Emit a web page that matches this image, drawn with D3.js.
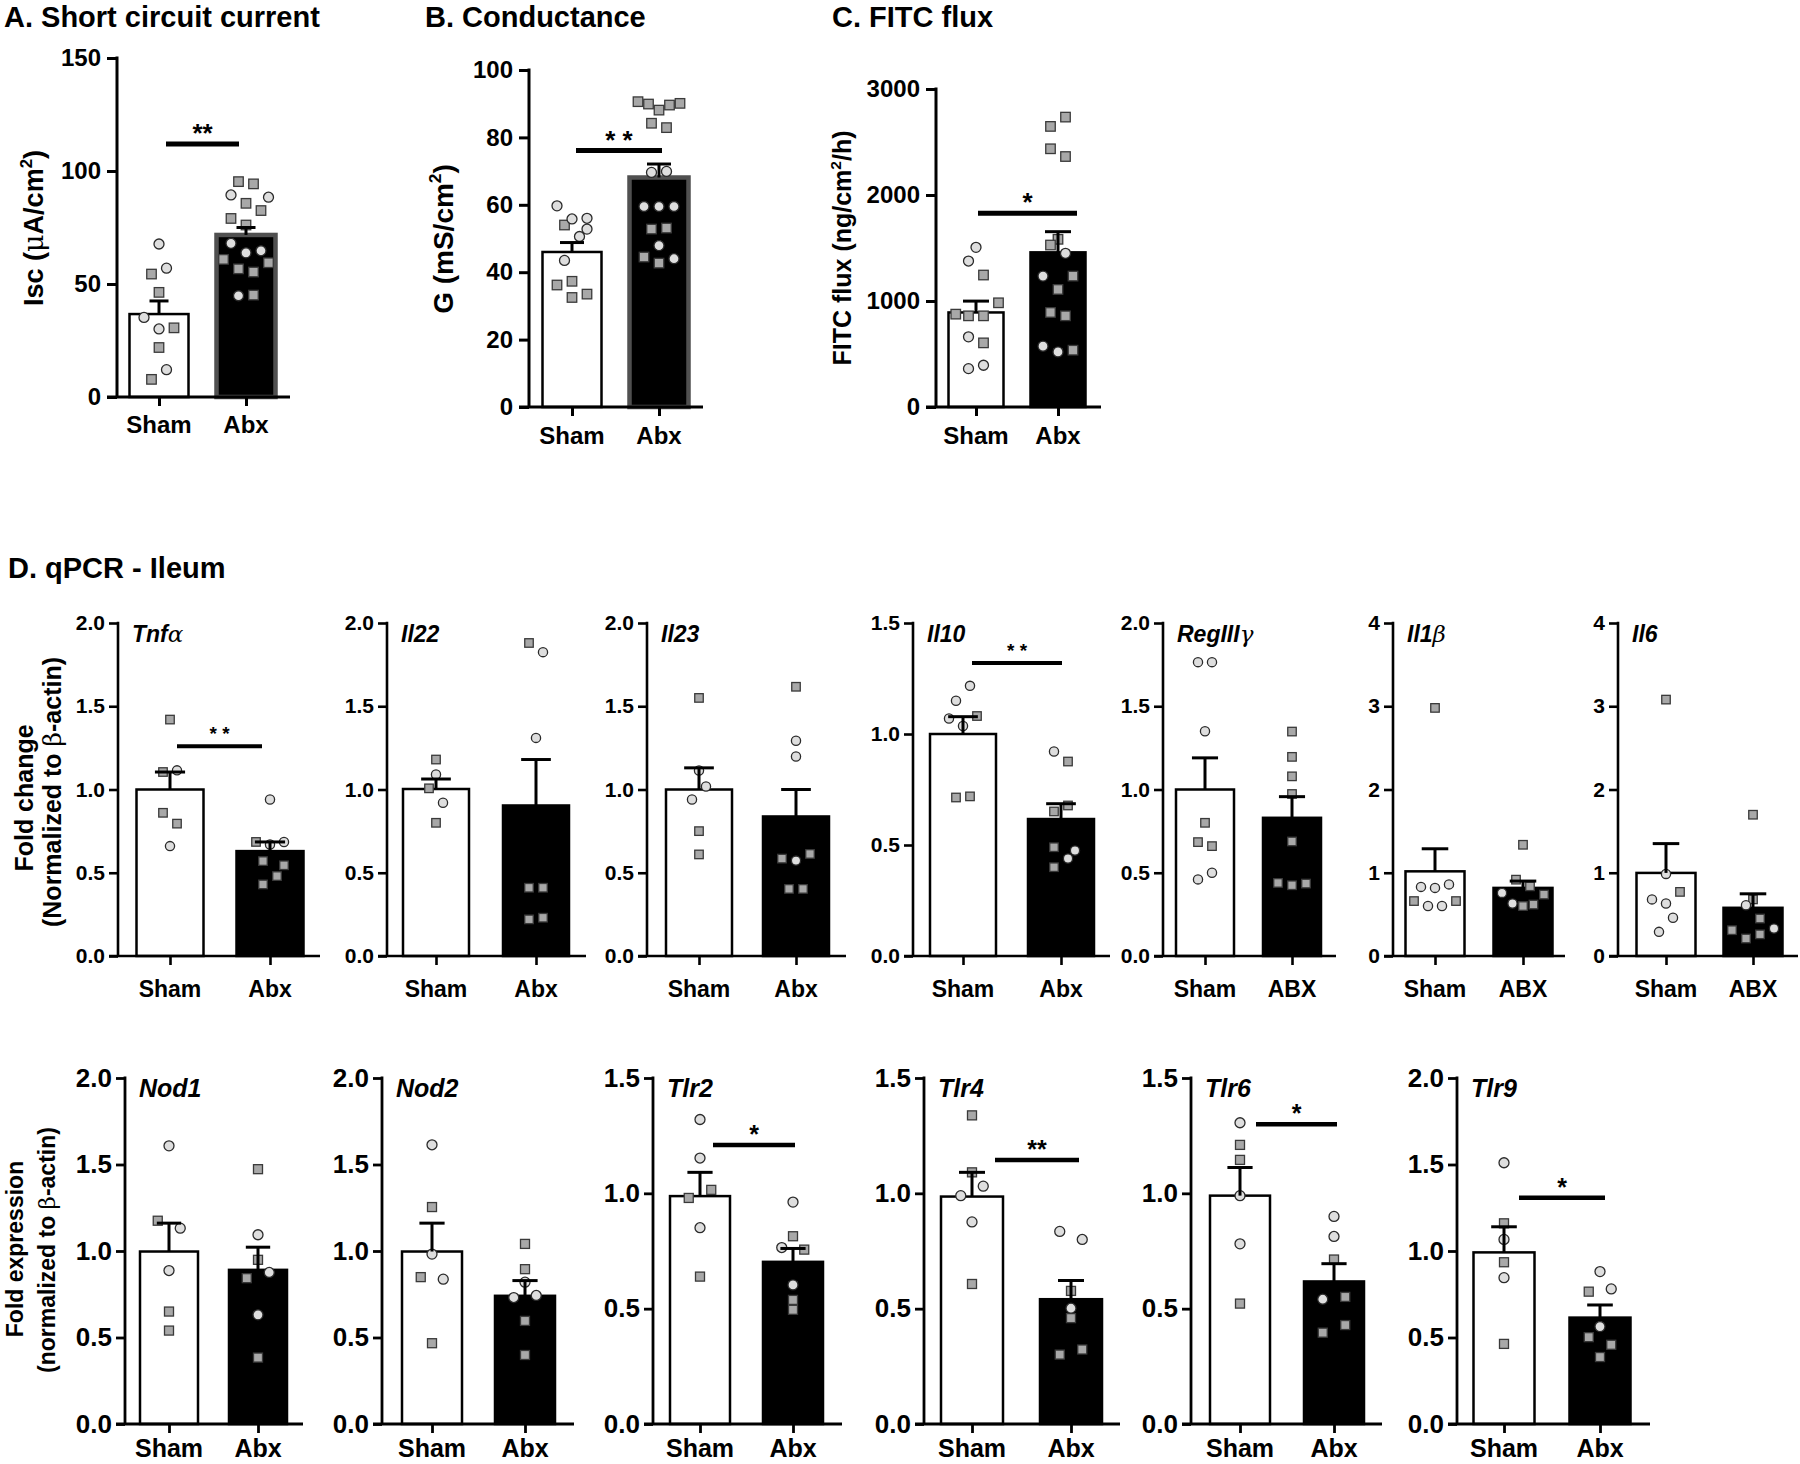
<!DOCTYPE html>
<html><head><meta charset="utf-8">
<script src="https://cdn.jsdelivr.net/npm/d3@7"></script>
<style>
body{margin:0;background:#fff}
svg{display:block}
text{font-family:"Liberation Sans",Arial,Helvetica,sans-serif;font-weight:bold;fill:#000}
</style>
</head><body>
<script>
// ---------------- DATA ----------------
const cats = ["Sham","Abx"];
const catsCaps = ["Sham","ABX"];

// tick values
const ticksIsc = [0,50,100,150];
const ticksG = [0,20,40,60,80,100];
const ticksFitc = [0,1000,2000,3000];
const ticks20 = [0,0.5,1.0,1.5,2.0];
const ticks15 = [0,0.5,1.0,1.5];
const ticks4 = [0,1,2,3,4];

// points: [value, shape (c=circle, s=square), column index in the scatter]
// A. Short circuit current
const iscMean = [36.7, 71.7], iscSem = [5.8, 3.3], iscSig = [112, "**"];
const iscSham = [[67.7,"c",0],[57,"c",1],[54.4,"s",-1],[46.3,"s",0],[35.2,"c",-2],[30.1,"c",0],[30.6,"s",2],[21.9,"s",0],[12.1,"c",1],[7.8,"s",-1]];
const iscAbx = [[95.3,"s",-1],[94.3,"s",1],[89.4,"c",-2],[88.4,"c",3],[85.7,"s",0],[82.5,"s",2],[79,"s",-2],[76.1,"s",0],[68,"c",-2],[63.8,"c",0],[64.7,"c",2],[60.9,"s",-3],[59.4,"s",3],[56.7,"s",-1],[55.3,"s",1],[44.8,"c",-1],[45.1,"s",1]];
// B. Conductance
const gMean = [46.0, 68.1], gSem = [2.8, 4.0], gSig = [76.1, "* *"];
const gSham = [[59.7,"c",-2],[55.8,"c",0],[56,"c",2],[54,"s",-1],[52.8,"c",2],[50.6,"c",1],[43.5,"c",-1],[36.2,"s",-2],[37.3,"s",0],[32.5,"s",0],[33.5,"s",2]];
const gAbx = [[90.6,"s",-2.8],[89.9,"s",-1.4],[88.1,"s",0],[89.6,"s",1.4],[90.1,"s",2.8],[84.2,"s",-1],[82.9,"s",1],[69.6,"c",-1],[69.9,"c",1],[59.5,"c",-2],[59.5,"c",0],[59.5,"c",2],[52.8,"s",-1],[53.1,"s",1],[47.9,"c",0],[44.5,"s",-2],[42.7,"s",0],[44,"c",2]];
// C. FITC flux
const fitcMean = [892, 1459], fitcSem = [107, 195], fitcSig = [1828, "*"];
const fitcSham = [[1506,"c",0],[1377,"c",-1],[1245,"s",1],[983,"s",3],[876,"s",-2.7],[860,"s",-1],[860,"s",1],[662,"c",-1],[605,"s",1],[362,"c",-1],[394,"c",1]];
const fitcAbx = [[2735,"s",1],[2647,"s",-1],[2436,"s",-1],[2363,"s",1],[1582,"s",0],[1528,"s",-1],[1450,"c",1],[1235,"c",-2],[1235,"s",2],[1109,"s",0],[892,"s",-1],[860,"s",1],[574,"c",-2],[520,"c",0],[536,"s",2]];

// D. qPCR - Ileum, row 1
const tnfaMean = [1.0, 0.63], tnfaSem = [0.105, 0.055], tnfaSig = [1.26, "* *"];
const tnfaSham = [[1.42,"s",0],[1.105,"s",-1],[1.115,"c",1],[0.86,"s",-1],[0.795,"s",1],[0.66,"c",0]];
const tnfaAbx = [[0.94,"c",0],[0.685,"s",-2],[0.67,"c",0],[0.685,"c",2],[0.57,"s",-1],[0.545,"s",2],[0.48,"s",1],[0.43,"s",-1]];
const il22Mean = [1.003, 0.904], il22Sem = [0.06, 0.276];
const il22Sham = [[1.18,"s",0],[1.09,"c",0],[1.007,"s",-1],[0.92,"c",1],[0.80,"s",0]];
const il22Abx = [[1.88,"s",-1],[1.825,"c",1],[1.31,"c",0],[0.41,"s",-1],[0.41,"s",1],[0.22,"s",-1],[0.23,"s",1]];
const il23Mean = [1.0, 0.838], il23Sem = [0.13, 0.162];
const il23Sham = [[1.55,"s",0],[1.114,"c",0],[1.018,"c",1],[0.94,"c",-1],[0.75,"s",0],[0.61,"s",0]];
const il23Abx = [[1.617,"s",0],[1.293,"c",0],[1.198,"c",0],[0.585,"s",-2],[0.573,"c",0],[0.613,"s",2],[0.403,"s",-1],[0.403,"s",1]];
const il10Mean = [1.0, 0.617], il10Sem = [0.078, 0.069], il10Sig = [1.32, "* *"];
const il10Sham = [[1.217,"c",1],[1.15,"c",-1],[1.07,"c",-2],[1.081,"s",2],[1.036,"c",0],[0.714,"s",-1],[0.719,"s",1]];
const il10Abx = [[0.921,"c",-1],[0.876,"s",1],[0.678,"s",1],[0.651,"s",-1],[0.49,"s",-1],[0.475,"c",2],[0.439,"c",1],[0.40,"s",-1]];
const reg3gMean = [1.0, 0.83], reg3gSem = [0.19, 0.127];
const reg3gSham = [[1.765,"c",-1],[1.765,"c",1],[1.35,"c",0],[0.80,"s",0],[0.684,"s",-1],[0.66,"s",1],[0.50,"c",1],[0.46,"c",-1]];
const reg3gAbx = [[1.348,"s",0],[1.196,"s",0],[1.079,"s",0],[0.973,"s",0],[0.688,"s",0],[0.439,"s",-2],[0.425,"s",0],[0.435,"s",2]];
const il1bMean = [1.017, 0.818], il1bSem = [0.271, 0.082];
const il1bSham = [[2.98,"s",0],[0.83,"c",-2],[0.818,"c",0],[0.86,"c",2],[0.66,"s",-3],[0.66,"s",3],[0.60,"c",-1],[0.60,"c",1]];
const il1bAbx = [[1.336,"s",0],[0.917,"s",-1],[0.758,"c",-3],[0.837,"s",1],[0.738,"s",3],[0.63,"c",-1.5],[0.60,"s",0],[0.618,"s",1.5]];
const il6Mean = [0.998, 0.579], il6Sem = [0.352, 0.168];
const il6Sham = [[3.08,"s",0],[0.986,"c",0],[0.77,"s",2],[0.68,"c",-2],[0.63,"c",0],[0.46,"c",1],[0.29,"c",-1]];
const il6Abx = [[1.697,"s",0],[0.68,"s",0],[0.61,"c",-1],[0.45,"s",1],[0.31,"s",-3],[0.33,"c",3],[0.26,"s",1],[0.21,"s",-1]];

// row 2
const nod1Mean = [0.997, 0.891], nod1Sem = [0.164, 0.131];
const nod1Sham = [[1.608,"c",0],[1.175,"s",-1.5],[1.132,"c",1.5],[0.887,"c",0],[0.65,"s",0],[0.54,"s",0]];
const nod1Abx = [[1.473,"s",0],[1.094,"c",0],[0.949,"s",0],[0.843,"s",-1.5],[0.876,"c",1.5],[0.631,"c",0],[0.384,"s",0]];
const nod2Mean = [0.997, 0.741], nod2Sem = [0.164, 0.088];
const nod2Sham = [[1.614,"c",0],[1.254,"s",0],[0.982,"c",0],[0.849,"s",-1.5],[0.837,"c",1.5],[0.467,"s",0]];
const nod2Abx = [[1.041,"s",0],[0.895,"s",0],[0.82,"c",0],[0.731,"c",-1.5],[0.743,"c",1.5],[0.596,"s",0],[0.399,"s",0]];
const tlr2Mean = [0.988, 0.703], tlr2Sem = [0.103, 0.058], tlr2Sig = [1.209, "*"];
const tlr2Sham = [[1.32,"c",0],[1.153,"c",0],[1.015,"s",1.5],[0.98,"s",-1.5],[0.851,"c",0],[0.639,"s",0]];
const tlr2Abx = [[0.962,"c",0],[0.814,"s",0],[0.765,"c",-1.5],[0.756,"s",1.5],[0.603,"c",0],[0.538,"s",0],[0.495,"s",0]];
const tlr4Mean = [0.986, 0.541], tlr4Sem = [0.105, 0.081], tlr4Sig = [1.145, "**"];
const tlr4Sham = [[1.338,"s",0],[1.091,"s",0],[1.031,"c",1.5],[0.99,"c",-1.5],[0.876,"c",0],[0.607,"s",0]];
const tlr4Abx = [[0.835,"c",-1.5],[0.80,"c",1.5],[0.577,"s",0],[0.502,"c",0],[0.459,"s",0],[0.301,"s",-1.5],[0.323,"s",1.5]];
const tlr6Mean = [0.99, 0.618], tlr6Sem = [0.122, 0.077], tlr6Sig = [1.299, "*"];
const tlr6Sham = [[1.306,"c",0],[1.21,"s",0],[1.145,"s",0],[0.99,"c",0],[0.781,"c",0],[0.522,"s",0]];
const tlr6Abx = [[0.90,"c",0],[0.813,"c",0],[0.713,"s",0],[0.541,"c",-1.5],[0.551,"s",1.5],[0.396,"s",-1.5],[0.429,"s",1.5]];
const tlr9Mean = [0.992, 0.615], tlr9Sem = [0.148, 0.073], tlr9Sig = [1.308, "*"];
const tlr9Sham = [[1.51,"c",0],[1.16,"s",0],[1.067,"c",0],[0.935,"s",0],[0.846,"c",0],[0.463,"s",0]];
const tlr9Abx = [[0.881,"c",0],[0.765,"s",-1.5],[0.781,"c",1.5],[0.563,"c",0],[0.502,"s",-1.5],[0.458,"s",1.5],[0.387,"s",0]];

// ---------------- DRAWING ----------------
const svg = d3.select("body").append("svg").attr("width",1800).attr("height",1464);

// style presets
const styleTop = {tick:24, lab:24, axW:3, bs:2.5, r:5, sq:9.5, cw:7.5, tl:10, tp:6, sigW:5, starSize:26, starW:"bold", capF:0.33};
const styleR1 = {tick:21, lab:23, axW:2.6, bs:2.5, r:4.6, sq:8.5, cw:7, tl:9, tp:4, sigW:4, starSize:19, starW:"normal", capF:0.45, gene:23};
const styleR2 = {tick:26, lab:25, axW:2.8, bs:2.5, r:5, sq:9, cw:7.5, tl:9, tp:4, sigW:4.5, starSize:25, starW:"bold", capF:0.42, gene:25};

function panel(o, S){
  const g = svg.append("g");
  const y = d3.scaleLinear().domain([0, o.max]).range([o.y0, o.y1]);
  const x = d3.scalePoint().domain(o.cats).range([o.xs, o.xa]);
  const groups = [o.sham, o.abx];

  // bars
  g.selectAll("rect.bar").data(o.mean).join("rect").attr("class","bar")
    .attr("x",(d,i)=>x(o.cats[i])-o.bw/2)
    .attr("y",d=>y(d))
    .attr("width",o.bw)
    .attr("height",d=>o.y0-y(d))
    .attr("fill",(d,i)=>i? "#000":"#fff")
    .attr("stroke",(d,i)=> (i && o.edge)? o.edge : "#000")
    .attr("stroke-width",(d,i)=> (i && o.edge)? 4.5 : S.bs);

  // points
  groups.forEach((pts,i)=>{
    const cx = x(o.cats[i]);
    g.selectAll(null).data(pts.filter(p=>p[1]==="s")).join("rect")
      .attr("x",p=>cx+p[2]*S.cw-S.sq/2).attr("y",p=>y(p[0])-S.sq/2)
      .attr("width",S.sq).attr("height",S.sq)
      .attr("fill","#a8a8a8").attr("stroke","#3a3a3a").attr("stroke-width",1.3);
    g.selectAll(null).data(pts.filter(p=>p[1]==="c")).join("circle")
      .attr("cx",p=>cx+p[2]*S.cw).attr("cy",p=>y(p[0])).attr("r",S.r)
      .attr("fill","#dedede").attr("stroke","#2a2a2a").attr("stroke-width",1.3);
  });

  // error bars (upper SEM)
  o.mean.forEach((m,i)=>{
    const cx = x(o.cats[i]);
    const cw = o.capW || o.bw*S.capF;
    g.append("line").attr("x1",cx).attr("x2",cx).attr("y1",y(m)).attr("y2",y(m+o.sem[i]))
      .attr("stroke","#000").attr("stroke-width",3);
    g.append("line").attr("x1",cx-cw/2).attr("x2",cx+cw/2).attr("y1",y(m+o.sem[i])).attr("y2",y(m+o.sem[i]))
      .attr("stroke","#000").attr("stroke-width",3);
  });

  // y axis
  const ya = d3.axisLeft(y).tickValues(o.ticks).tickFormat(o.fmt).tickSize(S.tl).tickPadding(S.tp);
  const gy = g.append("g").attr("transform",`translate(${o.ax},0)`).call(ya);
  gy.select(".domain").remove();
  gy.selectAll(".tick line").attr("stroke","#000").attr("stroke-width",S.axW);
  gy.selectAll(".tick text").attr("font-size",S.tick).attr("font-family",null).attr("fill","#000");
  g.append("line").attr("x1",o.ax).attr("x2",o.ax).attr("y1",o.y0).attr("y2",o.y1 - S.axW/2)
    .attr("stroke","#000").attr("stroke-width",S.axW);

  // x axis
  const xa = d3.axisBottom(x).tickSize(9).tickPadding(4);
  const gx = g.append("g").attr("transform",`translate(0,${o.y0})`).call(xa);
  gx.select(".domain").remove();
  gx.selectAll(".tick line").attr("stroke","#000").attr("stroke-width",S.axW);
  gx.selectAll(".tick text").remove();
  g.append("line").attr("x1",o.ax - S.tl).attr("x2",o.xe).attr("y1",o.y0).attr("y2",o.y0)
    .attr("stroke","#000").attr("stroke-width",S.axW);
  g.selectAll("text.cat").data(o.labels).join("text").attr("class","cat")
    .attr("x",(d,i)=>x(o.cats[i])).attr("y",o.lb).attr("text-anchor","middle")
    .attr("font-size",S.lab).text(d=>d);

  // gene name
  if (o.gene){
    const t = g.append("text").attr("x",o.ax+14).attr("y",o.y1+o.gy).attr("font-size",S.gene).attr("font-style","italic");
    o.gene.forEach(part=>{
      const ts = t.append("tspan").text(part[0]);
      if (part[1]) ts.attr("font-family","'DejaVu Serif',serif").attr("font-weight","normal");
    });
  }

  // significance
  if (o.sig){
    const yy = y(o.sig[0]);
    const x1 = x(o.cats[0]) + o.sx[0], x2 = x(o.cats[1]) + o.sx[1];
    g.append("line").attr("x1",x1).attr("x2",x2).attr("y1",yy).attr("y2",yy)
      .attr("stroke","#000").attr("stroke-width",S.sigW);
    g.append("text").attr("x",(x1+x2)/2).attr("y",yy - (S.starW==="bold"? 2 : 6))
      .attr("text-anchor","middle").attr("font-size",S.starSize).attr("font-weight",S.starW)
      .text(o.sig[1]);
  }
  return g;
}

const f1 = d3.format(".1f"), f0 = d3.format("d");

// top row
panel({ax:117, xs:159, xa:246, xe:290, y0:397, y1:58, max:150, ticks:ticksIsc, fmt:f0, bw:59, capW:19,
  cats, labels:cats, mean:iscMean, sem:iscSem, sham:iscSham, abx:iscAbx, edge:"#505050", lb:433,
  sig:iscSig, sx:[7,-7]}, styleTop);
panel({ax:529, xs:572, xa:659, xe:703, y0:407, y1:70, max:100, ticks:ticksG, fmt:f0, bw:59, capW:24,
  cats, labels:cats, mean:gMean, sem:gSem, sham:gSham, abx:gAbx, edge:"#505050", lb:444,
  sig:gSig, sx:[4,3]}, styleTop);
panel({ax:936, xs:976, xa:1058, xe:1101, y0:407, y1:89, max:3000, ticks:ticksFitc, fmt:f0, bw:55, capW:26,
  cats, labels:cats, mean:fitcMean, sem:fitcSem, sham:fitcSham, abx:fitcAbx, lb:444,
  sig:fitcSig, sx:[2,19]}, styleTop);

// row 1
const r1 = {y0:956, y1:623, lb:997, gy:19};
panel({...r1, ax:118, xs:170, xa:270, xe:320, max:2, ticks:ticks20, fmt:f1, bw:67, cats, labels:cats,
  mean:tnfaMean, sem:tnfaSem, sham:tnfaSham, abx:tnfaAbx, gene:[["Tnf"],["α",1]], sig:tnfaSig, sx:[7,-8]}, styleR1);
panel({...r1, ax:387, xs:436, xa:536, xe:586, max:2, ticks:ticks20, fmt:f1, bw:66, cats, labels:cats,
  mean:il22Mean, sem:il22Sem, sham:il22Sham, abx:il22Abx, gene:[["Il22"]]}, styleR1);
panel({...r1, ax:647, xs:699, xa:796, xe:846, max:2, ticks:ticks20, fmt:f1, bw:66, cats, labels:cats,
  mean:il23Mean, sem:il23Sem, sham:il23Sham, abx:il23Abx, gene:[["Il23"]]}, styleR1);
panel({...r1, ax:913, xs:963, xa:1061, xe:1110, max:1.5, ticks:ticks15, fmt:f1, bw:66, cats, labels:cats,
  mean:il10Mean, sem:il10Sem, sham:il10Sham, abx:il10Abx, gene:[["Il10"]], sig:il10Sig, sx:[9,1]}, styleR1);
panel({...r1, ax:1163, xs:1205, xa:1292, xe:1336, max:2, ticks:ticks20, fmt:f1, bw:58, cats, labels:catsCaps,
  mean:reg3gMean, sem:reg3gSem, sham:reg3gSham, abx:reg3gAbx, gene:[["RegIII"],["γ",1]]}, styleR1);
panel({...r1, ax:1393, xs:1435, xa:1523, xe:1565, max:4, ticks:ticks4, fmt:f0, bw:59, cats, labels:catsCaps,
  mean:il1bMean, sem:il1bSem, sham:il1bSham, abx:il1bAbx, gene:[["Il1"],["β",1]]}, styleR1);
panel({...r1, ax:1618, xs:1666, xa:1753, xe:1798, max:4, ticks:ticks4, fmt:f0, bw:59, cats, labels:catsCaps,
  mean:il6Mean, sem:il6Sem, sham:il6Sham, abx:il6Abx, gene:[["Il6"]]}, styleR1);

// row 2
const r2 = {y0:1424, y1:1078, lb:1457, gy:19};
panel({...r2, ax:125, xs:169, xa:258, xe:303, max:2, ticks:ticks20, fmt:f1, bw:58, cats, labels:cats,
  mean:nod1Mean, sem:nod1Sem, sham:nod1Sham, abx:nod1Abx, gene:[["Nod1"]]}, styleR2);
panel({...r2, ax:382, xs:432, xa:525, xe:574, max:2, ticks:ticks20, fmt:f1, bw:60, cats, labels:cats,
  mean:nod2Mean, sem:nod2Sem, sham:nod2Sham, abx:nod2Abx, gene:[["Nod2"]]}, styleR2);
panel({...r2, ax:653, xs:700, xa:793, xe:842, max:1.5, ticks:ticks15, fmt:f1, bw:60, cats, labels:cats,
  mean:tlr2Mean, sem:tlr2Sem, sham:tlr2Sham, abx:tlr2Abx, gene:[["Tlr2"]], sig:tlr2Sig, sx:[13,2]}, styleR2);
panel({...r2, ax:924, xs:972, xa:1071, xe:1120, max:1.5, ticks:ticks15, fmt:f1, bw:62, cats, labels:cats,
  mean:tlr4Mean, sem:tlr4Sem, sham:tlr4Sham, abx:tlr4Abx, gene:[["Tlr4"]], sig:tlr4Sig, sx:[23,8]}, styleR2);
panel({...r2, ax:1191, xs:1240, xa:1334, xe:1382, max:1.5, ticks:ticks15, fmt:f1, bw:60, cats, labels:cats,
  mean:tlr6Mean, sem:tlr6Sem, sham:tlr6Sham, abx:tlr6Abx, gene:[["Tlr6"]], sig:tlr6Sig, sx:[16,3]}, styleR2);
panel({...r2, ax:1457, xs:1504, xa:1600, xe:1650, max:2, ticks:ticks20, fmt:f1, bw:61, cats, labels:cats,
  mean:tlr9Mean, sem:tlr9Sem, sham:tlr9Sham, abx:tlr9Abx, gene:[["Tlr9"]], sig:tlr9Sig, sx:[15,5]}, styleR2);

// titles
const titles = [["A. Short circuit current",4,27],["B. Conductance",425,27],["C. FITC flux",832,27],["D. qPCR - Ileum",8,578]];
svg.selectAll("text.title").data(titles).join("text").attr("class","title")
  .attr("x",d=>d[1]).attr("y",d=>d[2]).attr("font-size",29).text(d=>d[0]);

// y-axis titles (rotated)
function ylab(xb, cy, size, parts){
  const t = svg.append("text").attr("transform",`translate(${xb},${cy}) rotate(-90)`)
    .attr("text-anchor","middle").attr("font-size",size);
  parts.forEach(p=>{
    const ts = t.append("tspan").text(p[0]);
    if (p[1]==="sup") ts.attr("font-size",size*0.62).attr("dy",-size*0.42);
    if (p[1]==="down") ts.attr("dy",size*0.42);
    if (p[1]==="greek") ts.attr("font-weight","normal").attr("font-family","'DejaVu Serif',serif");
  });
}
ylab(43, 228, 27, [["Isc ("],["μ","greek"],["A/cm"],["2","sup"],[")","down"]]);
ylab(453, 239, 28, [["G (mS/cm"],["2","sup"],[")","down"]]);
ylab(851, 248, 25, [["FITC flux (ng/cm"],["2","sup"],["/h)","down"]]);
ylab(33, 798, 25, [["Fold change"]]);
ylab(61, 792, 25, [["(Normalized to "],["β","greek"],["-actin)"]]);
ylab(23, 1249, 23, [["Fold expression"]]);
ylab(55, 1250, 23, [["(normalized to "],["β","greek"],["-actin)"]]);
</script>
</body></html>
